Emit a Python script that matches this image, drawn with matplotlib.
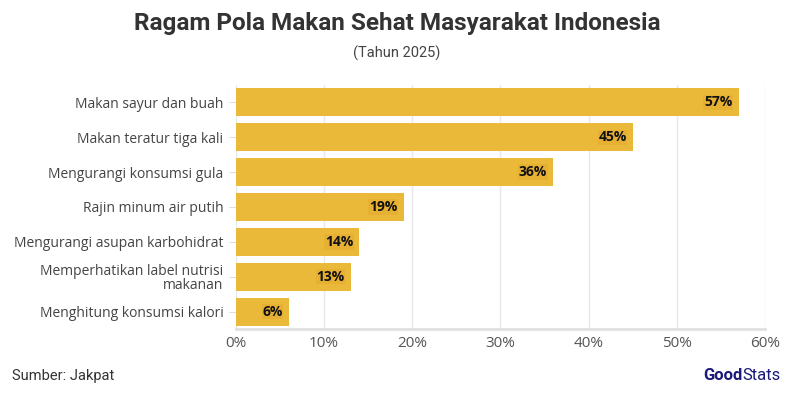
import matplotlib.pyplot as plt
from matplotlib.ticker import FuncFormatter

# data
kategori = [
    "Makan sayur dan buah",
    "Makan teratur tiga kali",
    "Mengurangi konsumsi gula",
    "Rajin minum air putih",
    "Mengurangi asupan karbohidrat",
    "Memperhatikan label nutrisi\nmakanan",
    "Menghitung konsumsi kalori",
]
persen = [57, 45, 36, 19, 14, 13, 6]

plt.rcParams['font.family'] = ['Open Sans', 'DejaVu Sans']

fig = plt.figure(figsize=(7.94, 3.97), dpi=100)
ax = fig.add_axes([0.2972, 0.1713, 0.6663, 0.6146])

pos = list(range(len(kategori)))[::-1]
ax.barh(pos, persen, height=0.8, color='#EBB93A', zorder=2)
for y, v in zip(pos, persen):
    ax.text(v - 0.7, y, f"{v}%", ha='right', va='center', fontsize=10,
            fontweight='bold', color='#111111', zorder=3,
            bbox=dict(boxstyle='square,pad=0.05', fc='#E6B032', ec='none'))

ax.set_xlim(0, 60)
ax.set_ylim(-0.5, 6.5)
ax.set_yticks(pos)
ax.set_yticklabels(kategori, fontsize=10, color='#444444', linespacing=0.95)
ax.set_xticks(range(0, 61, 10))
ax.xaxis.set_major_formatter(FuncFormatter(lambda x, p: f"{int(x)}%"))
ax.tick_params(axis='x', length=0, labelsize=11, labelcolor='#555555', pad=5)
ax.tick_params(axis='y', length=5, color='#dddddd', pad=4)
ax.grid(axis='x', color='#e8e8e8', linewidth=1, zorder=0)
for s in ['top', 'right', 'left']:
    ax.spines[s].set_visible(False)
ax.spines['bottom'].set_color('#e0e0e0')
ax.spines['bottom'].set_linewidth(2)

fig.text(0.5, 0.94, "Ragam Pola Makan Sehat Masyarakat Indonesia", ha='center',
         va='center', fontsize=17.5, fontweight='bold', color='#333333',
         family=['Roboto', 'DejaVu Sans'])
fig.text(0.5, 0.866, "(Tahun 2025)", ha='center', va='center', fontsize=10.5,
         color='#444444', family=['Roboto', 'DejaVu Sans'])
fig.text(0.015, 0.053, "Sumber: Jakpat", ha='left', va='center', fontsize=10.5,
         color='#333333', family=['Roboto', 'DejaVu Sans'])
fig.text(0.935, 0.053, "Good", ha='right', va='center', fontsize=12,
         fontweight='bold', color='#1a1a7a', family=['Roboto', 'DejaVu Sans'])
fig.text(0.935, 0.053, "Stats", ha='left', va='center', fontsize=12,
         color='#1a1a7a', family=['Roboto', 'DejaVu Sans'])

fig.savefig('out.png', dpi=100)
